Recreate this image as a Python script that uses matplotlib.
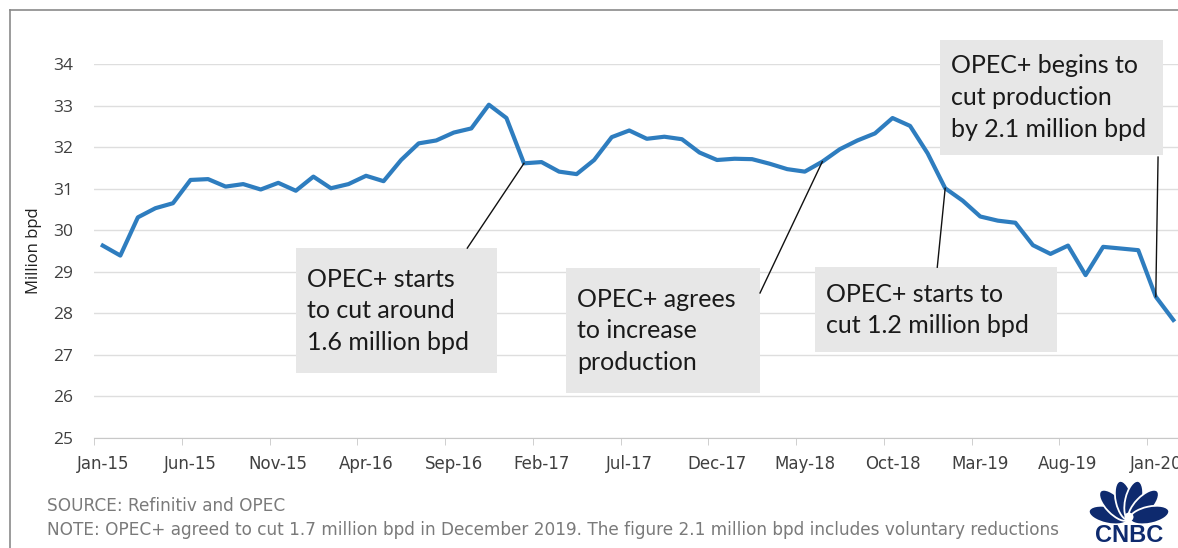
import numpy as np
import matplotlib
matplotlib.use('Agg')
import matplotlib.pyplot as plt
from matplotlib.patches import Rectangle, Ellipse
from matplotlib.lines import Line2D

# Monthly crude output, Jan-15 .. Feb-20 (million bpd)
production = [29.63, 29.39, 30.31, 30.53, 30.65, 31.21, 31.23, 31.05, 31.11, 30.98, 31.14, 30.95,  # 2015
              31.29, 31.01, 31.11, 31.31, 31.18, 31.69, 32.09, 32.16, 32.35, 32.45, 33.02, 32.70,  # 2016
              31.61, 31.64, 31.41, 31.35, 31.69, 32.24, 32.40, 32.20, 32.25, 32.19, 31.87, 31.69,  # 2017
              31.72, 31.71, 31.60, 31.47, 31.41, 31.65, 31.95, 32.16, 32.33, 32.70, 32.51, 31.85,  # 2018
              31.01, 30.71, 30.33, 30.23, 30.18, 29.64, 29.43, 29.63, 28.92, 29.60, 29.56, 29.52,  # 2019
              28.40, 27.84]
tick_labels = ['Jan-15', 'Jun-15', 'Nov-15', 'Apr-16', 'Sep-16', 'Feb-17', 'Jul-17',
               'Dec-17', 'May-18', 'Oct-18', 'Mar-19', 'Aug-19', 'Jan-20']
y_ticks = [25, 26, 27, 28, 29, 30, 31, 32, 33, 34]

# annotation text, month index it points at
notes = ['OPEC+ starts\nto cut around\n1.6 million bpd',
         'OPEC+ agrees\nto increase\nproduction',
         'OPEC+ starts to\ncut 1.2 million bpd',
         'OPEC+ begins to\ncut production\nby 2.1 million bpd']
note_month = [24, 41, 48, 60]

W, H = 1178, 548
fig = plt.figure(figsize=(W / 100, H / 100), dpi=100)
fig.patch.set_facecolor('white')

narrow = ['Liberation Sans Narrow', 'DejaVu Sans Condensed', 'DejaVu Sans']
boxfont = ['Lato', 'DejaVu Sans']

# axes placed in pixel terms
x0, x1, ytop, ybot = 94, 1178, 64, 438
ax = fig.add_axes([x0 / W, (H - ybot) / H, (x1 - x0) / W, (ybot - ytop) / H])
cat = 17.55
ax.set_xlim(-0.5, -0.5 + (x1 - x0) / cat)
ax.set_ylim(25, 34)

x = np.arange(len(production))
ax.plot(x, production, color='#2e7dbf', lw=3.0, solid_joinstyle='round', zorder=3)

for s in ['top', 'right', 'left']:
    ax.spines[s].set_visible(False)
ax.spines['bottom'].set_color('#c8c8c8')
ax.set_yticks(y_ticks)
ax.yaxis.grid(True, color='#dedede', lw=1.0)
ax.set_axisbelow(True)
ax.tick_params(axis='y', length=0, pad=15, labelsize=12.5, labelcolor='#404040')
ax.set_xticks(np.arange(0, 5 * len(tick_labels), 5))
ax.set_xticklabels(tick_labels, fontsize=12, color='#404040', family=narrow)
ax.set_xticks(np.arange(0, 5 * len(tick_labels), 5) - 0.5, minor=True)
ax.tick_params(axis='x', which='major', length=0, pad=12)
ax.tick_params(axis='x', which='minor', length=5, color='#c8c8c8', direction='out')
for t in ax.get_yticklabels():
    t.set_family(['Open Sans', 'DejaVu Sans'])
ax.set_ylabel('Million bpd', fontsize=12, color='#202020', family=['Open Sans', 'DejaVu Sans'])
ax.yaxis.set_label_coords(-0.048, 0.5)

# annotation boxes: (left, right, top, bottom) in data units
boxes = [(11.03, 22.48, 29.57, 26.56),
         (26.40, 37.45, 29.09, 26.08),
         (40.60, 54.40, 29.11, 27.06),
         (47.70, 60.40, 34.58, 31.81)]
line_from = [(20.77, 29.57), (37.45, 28.49), (47.55, 29.11), (60.13, 31.76)]

for txt, m, b, lf in zip(notes, note_month, boxes, line_from):
    l, r, t, btm = b
    ax.add_patch(Rectangle((l, btm), r - l, t - btm, facecolor='#e7e7e7',
                           edgecolor='none', zorder=4, clip_on=False))
    ax.text(l + 0.62, (t + btm) / 2, txt, ha='left', va='center', fontsize=18,
            family=boxfont, color='#1a1a1a', linespacing=1.45, zorder=5, clip_on=False)
    ax.add_line(Line2D([lf[0], m], [lf[1], production[m]], color='#111111', lw=1.0,
                       zorder=5, clip_on=False))

# outer frame
fig.add_artist(Line2D([10 / W, 10 / W], [0, 1 - 10 / H], color='#8a8a8a', lw=1.2))
fig.add_artist(Line2D([10 / W, 1], [1 - 10 / H, 1 - 10 / H], color='#8a8a8a', lw=1.2))

fig.text(47 / W, 1 - 506 / H, 'SOURCE: Refinitiv and OPEC', fontsize=12.2, color='#7a7a7a',
         family=narrow, va='center')
fig.text(47 / W, 1 - 530 / H,
         'NOTE: OPEC+ agreed to cut 1.7 million bpd in December 2019. The figure 2.1 million bpd includes voluntary reductions',
         fontsize=12.2, color='#7a7a7a', family=narrow, va='center')

# CNBC peacock logo, 1 unit = 1 pixel
navy = '#0e2a6e'
lax = fig.add_axes([1084 / W, 1 - 546 / H, 90 / W, 70 / H])
lax.set_xlim(-45, 45)
lax.set_ylim(-35, 35)
lax.axis('off')
angles = [168, 134, 103, 77, 46, 12]
for a in angles:
    rad = np.deg2rad(a)
    cx, cy = 21 * np.cos(rad), -8 + 19 * np.sin(rad)
    lax.add_patch(Ellipse((cx, cy), 40, 17, angle=a, facecolor=navy, edgecolor='white', lw=1.3))
lax.add_patch(Ellipse((0, -6), 9, 9, facecolor='white', edgecolor='none'))
lax.text(0, -24, 'CNBC', ha='center', va='center', fontsize=17, fontweight='bold',
         color=navy, family=['Liberation Sans', 'DejaVu Sans'])

fig.savefig('out.png', dpi=100)
